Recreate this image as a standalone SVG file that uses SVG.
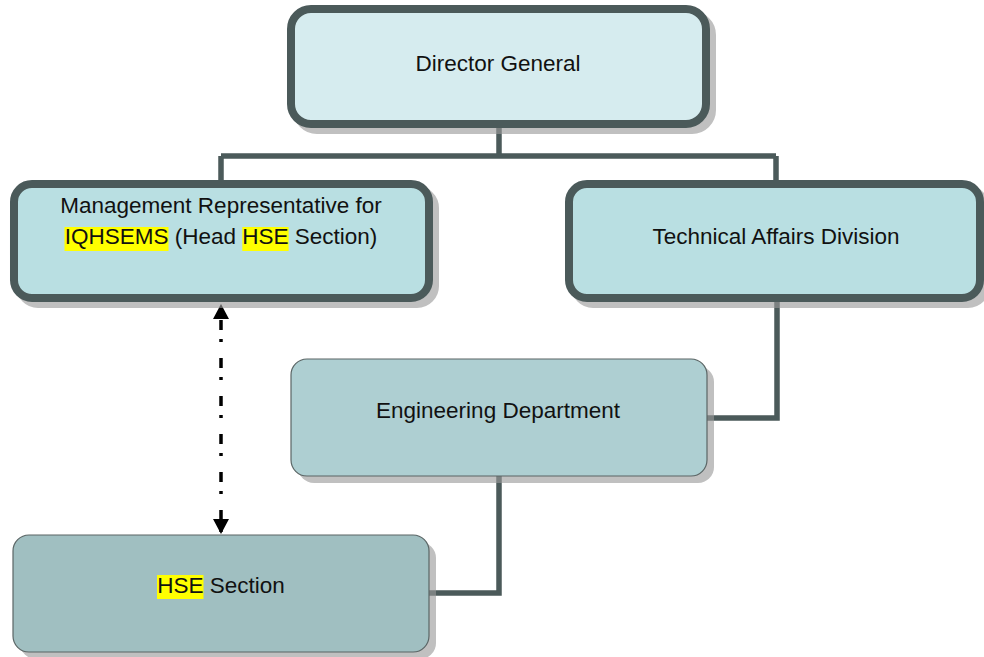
<svg xmlns="http://www.w3.org/2000/svg" width="984" height="657" viewBox="0 0 984 657">
<defs>
<style>
.txt{font-family:"Liberation Sans",Arial,sans-serif;font-size:22.5px;fill:#111}
.hl{fill:#ffff00}
.shT{fill:#9a9a9a;stroke:#9a9a9a;stroke-width:8;opacity:0.62}
.shN{fill:#9a9a9a;opacity:0.62}
.thick{stroke:#4b5a5a;stroke-width:8}
.thin{stroke:#5a6565;stroke-width:1.2}
.conn{fill:none;stroke:#4b5a5a;stroke-width:5.5}
.dash{fill:none;stroke:#000;stroke-width:3.5;stroke-dasharray:10 9 3 16;stroke-dashoffset:22}
</style>
<marker id="ah" viewBox="0 0 15 16" refX="15" refY="8" markerWidth="15" markerHeight="16" markerUnits="userSpaceOnUse" orient="auto-start-reverse">
<path d="M0,0 L15,8 L0,16 Z" fill="#000"/>
</marker>
</defs>
<rect width="984" height="657" fill="#fff"/>

<g id="connectors">
<path class="conn" d="M499,128 V156 M221,156 H776 M221,156 V184 M776,156 V184"/>
<path class="conn" d="M777,298 V418 H707"/>
<path class="conn" d="M499,476 V593 H429"/>
<line class="dash" x1="221" y1="304" x2="221" y2="534" marker-start="url(#ah)" marker-end="url(#ah)"/>
</g>

<g id="director-general">
<rect class="shT" x="297" y="15" width="415" height="115" rx="20"/>
<rect class="thick" x="291" y="9" width="415" height="115" rx="20" fill="#d6ecef"/>
<text class="txt" x="498" y="71" text-anchor="middle">Director General</text>
</g>

<g id="management-representative">
<rect class="shT" x="20" y="190" width="415" height="114" rx="18"/>
<rect class="thick" x="14" y="184" width="415" height="114" rx="18" fill="#b9dfe2"/>
<rect class="hl" x="64.5" y="227" width="104" height="24"/>
<rect class="hl" x="242.3" y="227" width="46.3" height="24"/>
<text class="txt" x="221" y="213" text-anchor="middle">Management Representative for</text>
<text class="txt" x="221" y="244" text-anchor="middle">IQHSEMS (Head HSE Section)</text>
</g>

<g id="technical-affairs">
<rect class="shT" x="575" y="190" width="411" height="114" rx="18"/>
<rect class="thick" x="569" y="184" width="411" height="114" rx="18" fill="#b9dfe2"/>
<text class="txt" x="776" y="244" text-anchor="middle">Technical Affairs Division</text>
</g>

<g id="engineering-department">
<rect class="shN" x="298" y="366" width="416" height="117" rx="16"/>
<rect class="thin" x="291" y="359" width="416" height="117" rx="16" fill="#aecfd2"/>
<text class="txt" x="498" y="418" text-anchor="middle">Engineering Department</text>
</g>

<g id="hse-section">
<rect class="shN" x="20" y="542" width="416" height="117" rx="16"/>
<rect class="thin" x="13" y="535" width="416" height="117" rx="16" fill="#a0bfc1"/>
<rect class="hl" x="157" y="575" width="46.5" height="24"/>
<text class="txt" x="221" y="593" text-anchor="middle">HSE Section</text>
</g>
</svg>
